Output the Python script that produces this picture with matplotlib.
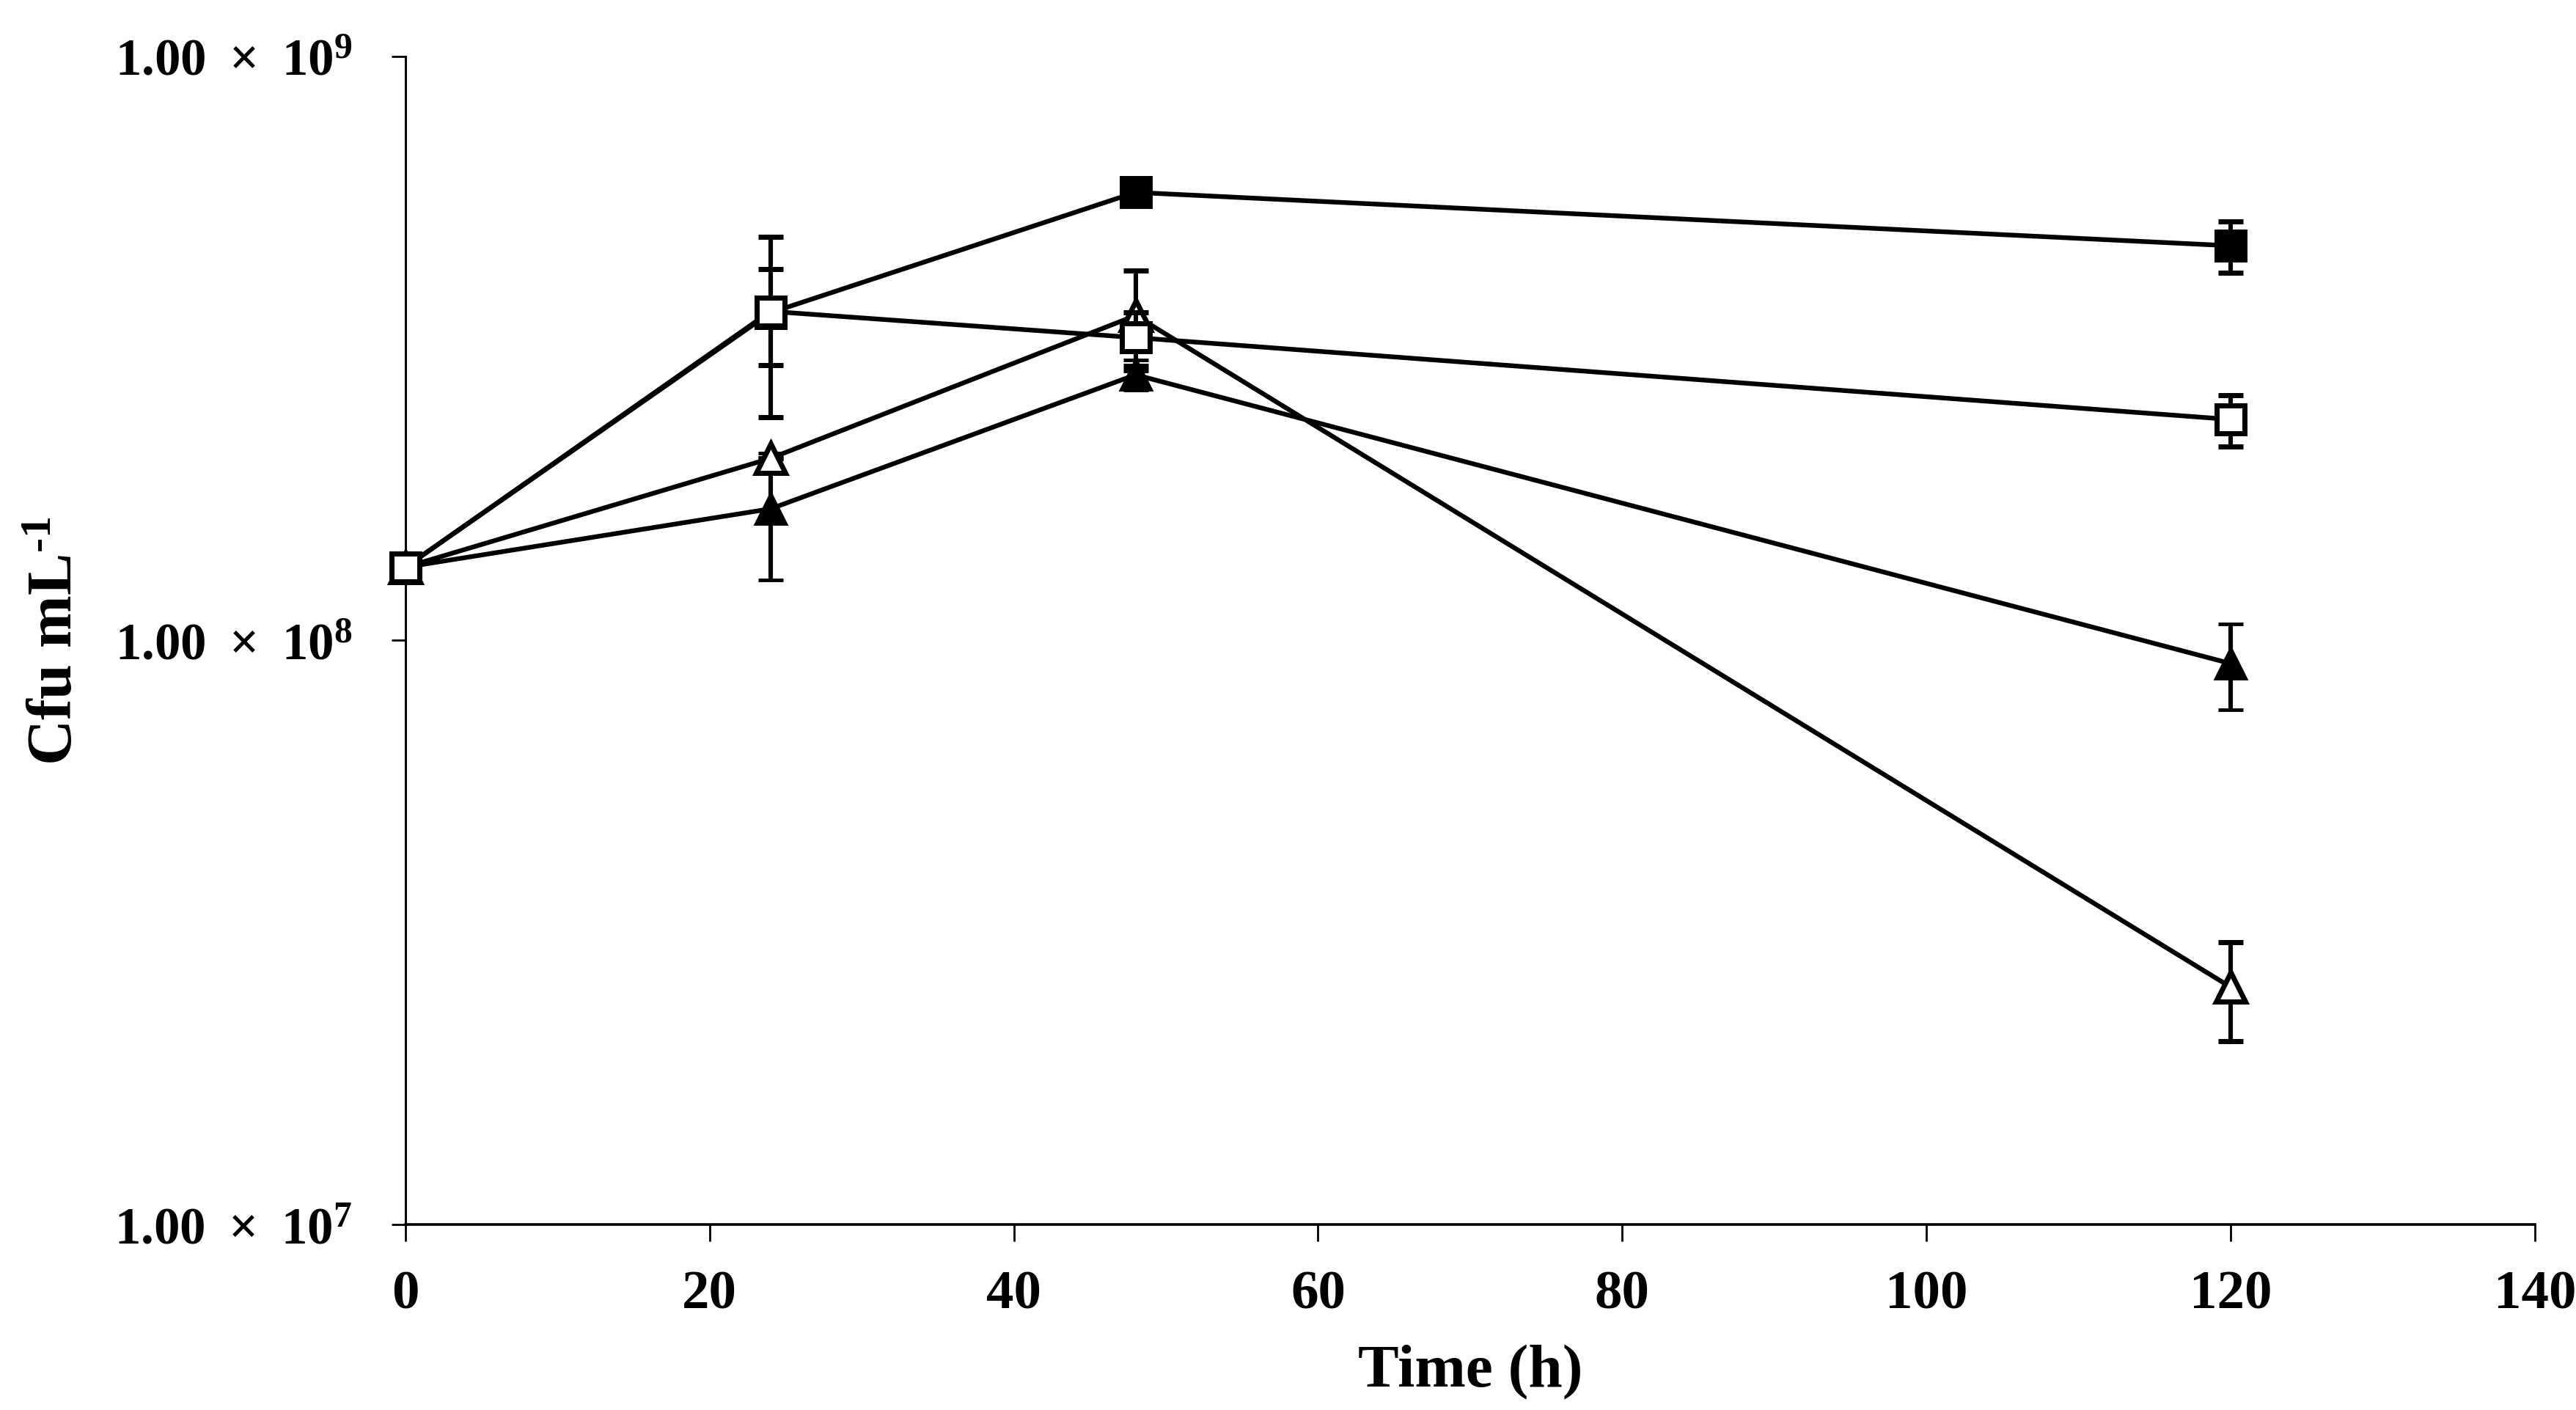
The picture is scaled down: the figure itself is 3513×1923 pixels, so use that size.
import matplotlib
matplotlib.use("Agg")
import matplotlib.pyplot as plt
from matplotlib.ticker import FixedLocator, FixedFormatter, NullLocator

plt.rcParams['font.family'] = ['Liberation Serif', 'DejaVu Serif']
plt.rcParams['font.weight'] = 'bold'
plt.rcParams['mathtext.fontset'] = 'custom'
plt.rcParams['mathtext.rm'] = 'Liberation Serif:bold'
plt.rcParams['mathtext.bf'] = 'Liberation Serif:bold'
plt.rcParams['mathtext.it'] = 'Liberation Serif:bold'

# Data (cfu/mL)
time_h = [0, 24, 48, 120]

filled_square = [1.335e8, 3.64e8, 5.85e8, 4.74e8]
filled_square_err = [0.0, 0.68e8, 0.15e8, 0.48e8]

open_square = [1.335e8, 3.66e8, 3.30e8, 2.39e8]
open_square_err = [0.0, 1.25e8, 0.35e8, 0.24e8]

filled_triangle = [1.335e8, 1.68e8, 2.85e8, 9.13e7]
filled_triangle_err = [0.0, 0.41e8, 0.17e8, 1.53e7]

open_triangle = [1.335e8, 2.05e8, 3.60e8, 2.55e7]
open_triangle_err = [0.0, 0.0, 0.70e8, 0.49e7]

x_ticks = [0, 20, 40, 60, 80, 100, 120, 140]
y_ticks = [1e7, 1e8, 1e9]
y_tick_labels = [r'$1.00\ \times\ 10^{7}$', r'$1.00\ \times\ 10^{8}$', r'$1.00\ \times\ 10^{9}$']

fig = plt.figure(figsize=(35.13, 19.24), dpi=100)
ax = fig.add_axes([0.1574, 0.1315, 0.8266, 0.828])

common = dict(color='black', lw=4.6, ecolor='black', elinewidth=4.4,
              capsize=12, capthick=4.4, clip_on=False)

ax.errorbar(time_h, filled_triangle, yerr=filled_triangle_err, marker='^', ms=29,
            mfc='black', mec='black', mew=3.5, zorder=3, **common)
ax.errorbar(time_h, open_triangle, yerr=open_triangle_err, marker='^', ms=29,
            mfc='white', mec='black', mew=5, zorder=4, **common)
ax.errorbar(time_h, filled_square, yerr=filled_square_err, marker='s', ms=28,
            mfc='black', mec='black', mew=5, zorder=5, **common)
ax.errorbar(time_h, open_square, yerr=open_square_err, marker='s', ms=28,
            mfc='white', mec='black', mew=5, zorder=6, **common)

ax.set_yscale('log')
ax.set_xlim(0, 140)
ax.set_ylim(1e7, 1e9)

ax.xaxis.set_major_locator(FixedLocator(x_ticks))
ax.yaxis.set_major_locator(FixedLocator(y_ticks))
ax.yaxis.set_major_formatter(FixedFormatter(y_tick_labels))
ax.yaxis.set_minor_locator(NullLocator())

for s in ['top', 'right']:
    ax.spines[s].set_visible(False)
ax.spines['left'].set_linewidth(2.2)
ax.spines['bottom'].set_linewidth(2.6)

ax.tick_params(axis='x', direction='out', length=16.5, width=2.0, pad=28, labelsize=54)
ax.tick_params(axis='y', direction='out', length=14, width=2.0, pad=38, labelsize=51)
for lab in ax.get_xticklabels() + ax.get_yticklabels():
    lab.set_fontweight('bold')

ax.set_xlabel('Time (h)', fontsize=60, fontweight='bold', labelpad=24)
ax.set_ylabel(r'Cfu mL$^{\text{-1}}$', fontsize=62, fontweight='bold', labelpad=28)

fig.savefig('out.png', dpi=100)
